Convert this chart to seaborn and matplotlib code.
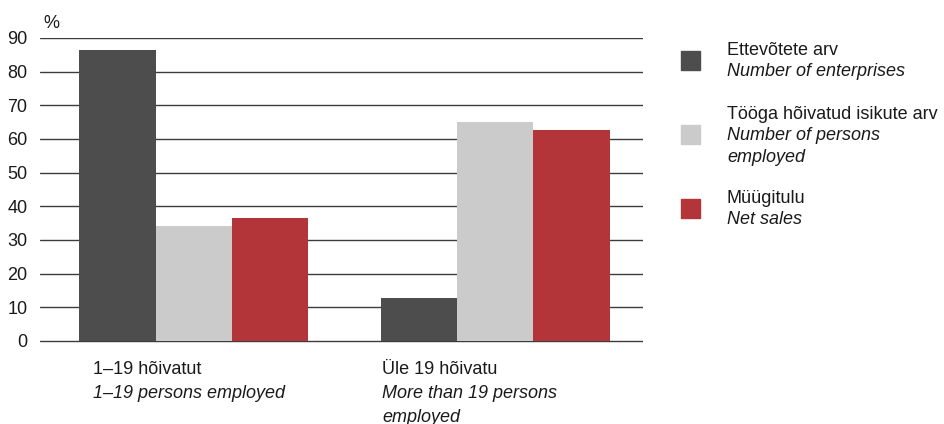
import pandas as pd
import numpy as np
import matplotlib.pyplot as plt
import seaborn as sns
from matplotlib.patches import Rectangle

# data
groups = ['1–19 hõivatut', 'Üle 19 hõivatu']
groups_en = ['1–19 persons employed', 'More than 19 persons\nemployed']
series = ['Ettevõtete arv', 'Tööga hõivatud isikute arv', 'Müügitulu']
series_en = ['Number of enterprises', 'Number of persons\nemployed', 'Net sales']
enterprises = [86.4, 12.8]
persons = [34.2, 65.0]
sales = [36.5, 62.7]
colors = ['#4d4d4d', '#cbcbcb', '#b3353a']
yticks = list(range(0, 100, 10))

df = pd.DataFrame({
    'group': groups * 3,
    'series': np.repeat(series, len(groups)),
    'value': enterprises + persons + sales,
})

sns.set_theme(style='white')
plt.rcParams['font.family'] = ['Liberation Sans', 'DejaVu Sans']

W, H = 944, 424
FS = 13
TXT = '#1a1a1a'
fig = plt.figure(figsize=(W / 100, H / 100), dpi=100)
ax = fig.add_axes([40 / W, 1 - 343 / H, 603 / W, 305 / H])

sns.barplot(data=df, x='group', y='value', hue='series', order=groups,
            hue_order=series, palette=colors, width=0.76, saturation=1,
            linewidth=0, errorbar=None, legend=False, ax=ax)

ax.set_xlim(-0.51, 1.49)
ax.set_ylim(-0.6, 90)
ax.set_yticks(yticks)
ax.yaxis.grid(True, color='#3c3c3c', linewidth=1)
ax.set_axisbelow(True)
sns.despine(ax=ax, left=True, bottom=True)
ax.tick_params(axis='y', length=0, labelsize=FS, pad=9, labelcolor=TXT)
ax.set_xticks([])
ax.set_xlabel('')
ax.set_ylabel('')

fig.text(43 / W, 1 - 28 / H, '%', fontsize=FS, color=TXT)

# category labels, left aligned under each group
label_x = [93, 382]
for x, et, en in zip(label_x, groups, groups_en):
    fig.text(x / W, 1 - 374 / H, et, fontsize=FS, color=TXT)
    for k, line in enumerate(en.split('\n')):
        fig.text(x / W, 1 - (398 + 23.5 * k) / H, line, fontsize=FS,
                 style='italic', color=TXT)

# legend
box_y = [60, 134, 208]
txt_y = [55, 119, 203]
for c, et, en, by, ty in zip(colors, series, series_en, box_y, txt_y):
    fig.patches.append(Rectangle((681 / W, 1 - (by + 9.5) / H), 19 / W, 19 / H,
                                 transform=fig.transFigure, color=c))
    fig.text(727 / W, 1 - ty / H, et, fontsize=FS, color=TXT)
    for k, line in enumerate(en.split('\n')):
        fig.text(727 / W, 1 - (ty + 21.5 * (k + 1)) / H, line, fontsize=FS,
                 style='italic', color=TXT)

fig.savefig('out.png', dpi=100)
